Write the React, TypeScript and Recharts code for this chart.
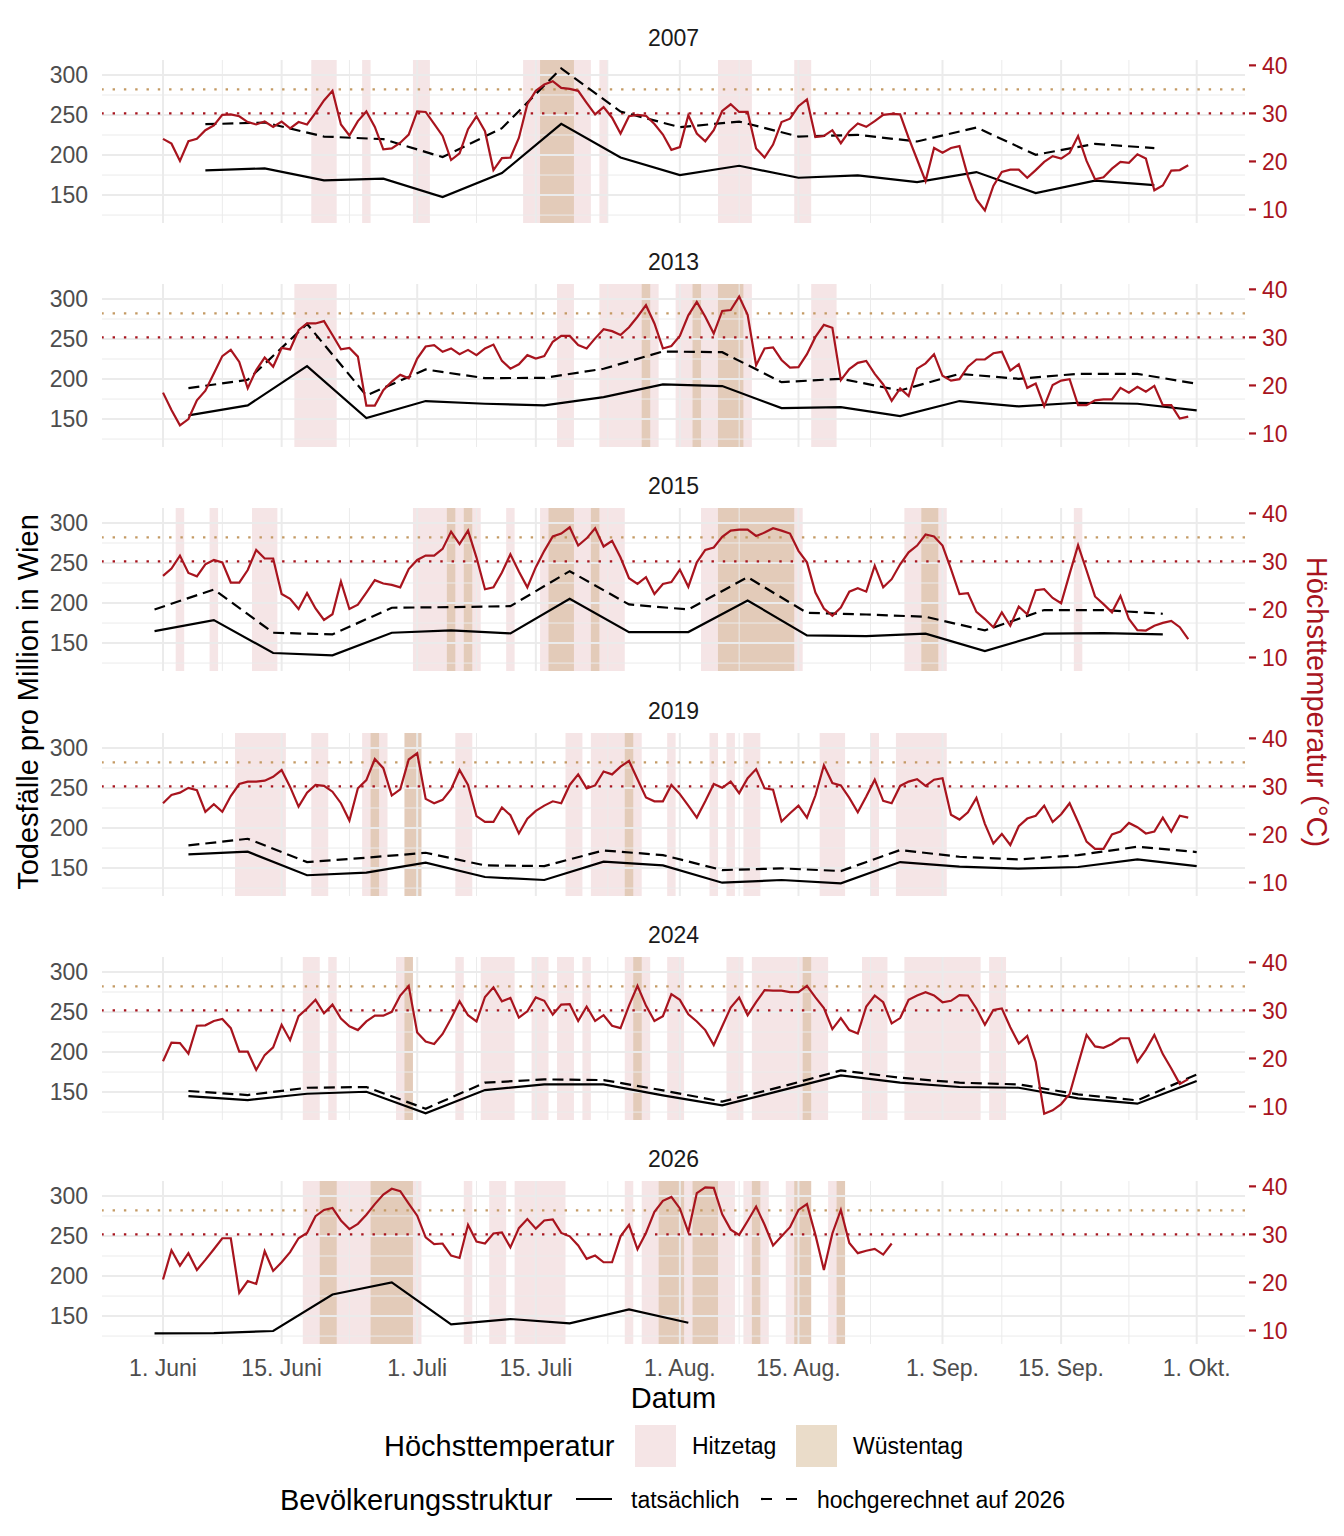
import React from "react";
import {
  ComposedChart,
  Line,
  XAxis,
  YAxis,
  ReferenceLine,
  ReferenceArea,
} from "recharts";

// daily maximum temperature in °C, day 0 = 1 June
const temp2007 = [
  24.7, 23.7, 20.1, 24.2, 24.7, 26.5, 27.5, 29.7, 29.8, 29.4,
  28.2, 27.7, 28.3, 27.2, 28.3, 26.9, 28.2, 27.7, 30.1, 32.7,
  34.7, 27.7, 25.4, 28.4, 30.4, 27.2, 22.5, 22.7, 23.9, 25.6,
  30.4, 30.3, 27.8, 25.3, 20.3, 21.7, 26.7, 29.4, 26.3, 18.2,
  20.7, 20.8, 24.9, 31.9, 34.7, 36.0, 36.7, 35.3, 35.1, 34.7,
  32.2, 29.8, 31.3, 29.1, 25.8, 29.4, 29.7, 29.5, 27.8, 25.6,
  22.4, 23.0, 29.6, 25.8, 24.2, 26.5, 30.5, 31.9, 30.3, 30.3,
  22.7, 20.8, 23.5, 28.2, 28.9, 31.5, 32.9, 25.1, 25.3, 26.5,
  23.8, 26.3, 27.9, 27.2, 28.4, 29.7, 29.9, 29.8, 24.9, 20.4,
  15.9, 22.8, 21.8, 22.8, 23.2, 16.9, 12.1, 9.8, 14.9, 17.8,
  18.3, 18.3, 16.6, 18.2, 19.9, 21.1, 20.6, 21.8, 25.3, 20.1,
  16.3, 16.7, 18.5, 19.9, 19.7, 21.5, 20.6, 14.0, 15.0, 18.1,
  18.2, 19.2,
];
const temp2013 = [
  18.5, 14.9, 11.7, 13.0, 16.9, 18.9, 22.5, 26.1, 27.4, 24.9,
  19.4, 23.2, 25.8, 23.9, 27.8, 27.5, 31.5, 32.9, 32.9, 33.4,
  30.5, 27.5, 27.8, 26.0, 15.8, 15.8, 19.0, 20.8, 22.2, 21.5,
  25.6, 28.1, 28.4, 27.0, 27.7, 26.5, 27.4, 26.3, 27.7, 28.5,
  25.1, 23.5, 24.4, 26.3, 25.6, 26.1, 29.1, 30.3, 30.3, 28.4,
  27.7, 29.8, 31.7, 31.3, 30.5, 32.1, 34.3, 36.7, 32.9, 27.7,
  28.2, 30.3, 34.6, 37.4, 34.3, 30.8, 35.5, 35.7, 38.5, 34.7,
  24.2, 27.7, 27.9, 25.3, 23.7, 23.8, 26.5, 30.1, 32.6, 32.0,
  21.1, 23.4, 24.7, 25.1, 22.4, 20.2, 16.8, 19.4, 17.8, 23.5,
  24.6, 26.5, 22.0, 21.0, 21.3, 23.9, 25.4, 25.4, 26.7, 27.0,
  23.1, 24.4, 19.5, 20.4, 15.7, 20.1, 21.0, 21.3, 15.9, 15.9,
  16.9, 17.1, 17.1, 19.5, 18.5, 19.7, 18.7, 19.9, 15.9, 15.9,
  13.1, 13.5,
];
const temp2015 = [
  27.0, 28.5, 31.2, 27.6, 26.9, 29.4, 30.3, 29.8, 25.6, 25.6,
  28.2, 32.4, 30.6, 30.6, 23.2, 22.2, 20.1, 23.4, 20.2, 17.8,
  19.0, 25.8, 20.1, 21.0, 23.5, 26.1, 25.4, 25.1, 24.6, 28.4,
  30.3, 31.2, 31.2, 32.6, 36.2, 33.6, 36.4, 30.8, 24.2, 24.6,
  27.7, 31.5, 27.9, 24.6, 28.8, 32.2, 35.2, 35.8, 37.1, 33.3,
  34.8, 36.9, 33.1, 34.3, 30.8, 26.5, 25.3, 26.7, 23.2, 25.3,
  25.7, 28.3, 24.7, 29.8, 32.4, 32.9, 35.1, 36.4, 36.6, 36.6,
  35.3, 36.0, 36.9, 36.4, 35.8, 32.2, 29.8, 23.5, 20.2, 18.7,
  20.4, 23.7, 24.4, 23.7, 29.1, 24.6, 26.3, 29.4, 31.9, 33.3,
  35.6, 35.2, 33.3, 28.4, 23.2, 23.4, 19.5, 18.0, 16.3, 19.4,
  16.6, 20.6, 19.0, 24.0, 24.2, 22.4, 21.3, 27.4, 33.4, 28.1,
  22.7, 21.1, 19.4, 22.8, 18.0, 15.7, 15.6, 16.6, 17.2, 17.6,
  16.3, 13.8,
];
const temp2019 = [
  26.5, 28.2, 28.7, 29.7, 29.2, 24.7, 26.3, 24.7, 28.0, 30.5,
  31.0, 31.0, 31.2, 32.0, 33.4, 29.9, 25.8, 28.7, 30.3, 30.1,
  28.9, 26.5, 22.9, 29.6, 31.3, 35.7, 33.8, 28.1, 29.4, 35.6,
  36.9, 27.4, 26.5, 27.2, 29.4, 33.4, 30.3, 23.8, 22.6, 22.6,
  25.6, 24.0, 20.2, 23.3, 24.9, 26.0, 26.9, 26.5, 30.3, 32.5,
  29.6, 30.2, 33.1, 32.5, 34.1, 35.3, 31.5, 27.7, 26.9, 26.9,
  30.3, 28.4, 26.0, 23.5, 26.9, 30.5, 29.7, 31.0, 28.6, 31.7,
  33.6, 29.6, 29.3, 22.7, 24.4, 26.0, 23.5, 28.1, 34.4, 30.7,
  30.2, 27.6, 24.6, 27.9, 31.4, 27.0, 26.5, 30.1, 31.0, 31.5,
  30.1, 31.4, 31.7, 24.1, 23.1, 24.6, 27.6, 22.2, 18.1, 20.1,
  17.8, 21.7, 23.3, 23.9, 26.0, 22.6, 24.2, 26.5, 22.6, 18.5,
  17.0, 17.0, 20.0, 20.6, 22.4, 21.5, 20.2, 20.6, 23.5, 20.6,
  23.9, 23.5,
];
const temp2024 = [
  19.4, 23.3, 23.2, 21.0, 26.8, 26.9, 27.8, 28.2, 26.3, 21.4,
  21.4, 17.6, 20.7, 22.3, 27.0, 23.8, 28.8, 30.4, 32.2, 29.4,
  31.2, 28.3, 26.7, 25.9, 27.7, 28.9, 28.9, 29.7, 33.1, 35.1,
  25.4, 23.5, 23.0, 25.1, 28.3, 31.9, 29.0, 27.7, 32.8, 34.8,
  31.9, 32.6, 28.5, 29.8, 32.7, 32.0, 29.1, 31.2, 31.3, 27.8,
  30.8, 27.8, 29.0, 26.8, 26.3, 31.0, 35.1, 31.0, 27.8, 28.8,
  33.4, 32.2, 29.2, 27.7, 25.9, 22.8, 26.7, 30.6, 32.7, 29.0,
  31.7, 34.2, 34.1, 34.1, 33.8, 33.8, 35.1, 32.7, 30.5, 26.1,
  28.4, 25.9, 25.2, 30.8, 33.1, 31.7, 27.3, 28.4, 32.2, 33.1,
  33.8, 33.1, 31.7, 32.0, 33.2, 33.1, 30.4, 27.0, 30.1, 30.4,
  26.5, 23.1, 24.7, 19.3, 8.5, 9.2, 10.5, 12.6, 18.8, 24.9,
  22.5, 22.2, 23.0, 24.2, 24.2, 19.3, 21.8, 24.9, 20.9, 17.9,
  14.7, 15.7,
];
const temp2026 = [
  20.6, 26.7, 23.5, 26.1, 22.6, 24.7, 26.9, 29.2, 29.2, 17.8,
  20.3, 19.7, 26.5, 22.4, 24.2, 26.3, 29.2, 30.3, 33.8, 35.1,
  35.5, 32.9, 31.1, 32.2, 34.1, 36.3, 38.3, 39.5, 39.0, 36.4,
  33.9, 29.4, 28.0, 28.1, 25.6, 25.1, 32.0, 28.5, 28.1, 30.2,
  30.4, 27.3, 31.3, 33.2, 31.2, 32.9, 33.1, 30.3, 29.6, 27.7,
  24.9, 25.6, 24.2, 24.2, 29.6, 32.0, 26.9, 30.3, 34.7, 37.0,
  37.8, 35.4, 30.5, 38.6, 39.8, 39.7, 34.2, 31.0, 29.9, 32.8,
  35.8, 32.0, 27.7, 29.6, 31.5, 35.1, 36.3, 29.9, 22.6, 30.2,
  35.1, 28.2, 26.1, 26.6, 27.0, 25.8, 28.1,
];

// weekly deaths per million (day of the week's midpoint, 0 = 1 June)
const weeks2007 = [5, 12, 19, 26, 33, 40, 47, 54, 61, 68, 75, 82, 89, 96, 103, 110, 117];
const actual2007 = [180.8, 183.3, 168.3, 170.4, 147.5, 177.4, 238.9, 197.0, 175.0, 186.6, 171.6, 174.5, 166.2, 178.7, 152.5, 167.9, 162.5];
const projected2007 = [238.5, 240.6, 223.1, 219.8, 197.4, 233.5, 308.3, 254.3, 234.8, 241.8, 223.1, 225.2, 216.9, 234.4, 200.3, 214.0, 208.6];

const weeks2013 = [3, 10, 17, 24, 31, 38, 45, 52, 59, 66, 73, 80, 87, 94, 101, 108, 115, 122];
const actual2013 = [154.6, 167.1, 216.1, 151.3, 172.5, 169.1, 167.1, 177.4, 193.2, 191.2, 163.7, 165.0, 153.8, 172.5, 165.8, 170.4, 169.1, 160.8];
const projected2013 = [188.7, 199.0, 268.8, 179.5, 211.9, 201.1, 201.5, 212.8, 234.4, 233.5, 196.1, 200.3, 185.7, 206.5, 200.3, 206.5, 206.5, 194.1];

const weeks2015 = [-1, 6, 13, 20, 27, 34, 41, 48, 55, 62, 69, 76, 83, 90, 97, 104, 111, 118];
const actual2015 = [165.0, 178.7, 137.6, 134.6, 162.9, 165.8, 162.1, 205.3, 163.7, 163.7, 203.2, 159.6, 158.7, 161.7, 140.0, 161.7, 162.5, 160.8];
const projected2015 = [192.0, 216.9, 162.9, 160.8, 194.1, 194.9, 196.1, 239.8, 198.2, 192.0, 232.3, 187.8, 185.7, 182.8, 165.8, 191.2, 191.2, 186.6];

const weeks2019 = [3, 10, 17, 24, 31, 38, 45, 52, 59, 66, 73, 80, 87, 94, 101, 108, 115, 122];
const actual2019 = [167.1, 170.4, 141.0, 144.2, 156.7, 138.8, 135.1, 157.9, 153.3, 131.7, 135.1, 130.9, 157.5, 151.7, 149.2, 151.3, 160.8, 152.5];
const projected2019 = [178.3, 186.6, 157.5, 162.9, 169.1, 153.3, 152.5, 172.0, 166.2, 147.5, 149.6, 146.3, 172.5, 164.1, 160.8, 166.2, 176.6, 170.0];

const weeks2024 = [3, 10, 17, 24, 31, 38, 45, 52, 59, 66, 73, 80, 87, 94, 101, 108, 115, 122];
const actual2024 = [145.0, 140.0, 147.9, 150.4, 123.4, 152.5, 159.6, 159.6, 145.9, 133.4, 152.1, 170.8, 161.7, 156.3, 155.4, 142.1, 135.5, 163.7];
const projected2024 = [151.3, 146.3, 155.4, 156.3, 129.2, 161.7, 165.8, 165.0, 152.1, 138.0, 156.7, 177.0, 167.9, 161.7, 159.6, 147.1, 139.6, 172.0];

const weeks2026 = [-1, 6, 13, 20, 27, 34, 41, 48, 55, 62];
const actual2026 = [128.4, 128.8, 131.3, 177.0, 192.0, 139.6, 146.3, 140.9, 158.3, 141.7];

const dateTicks = [0, 14, 30, 44, 61, 75, 92, 106, 122];
const dateLabels = ["1. Juni", "15. Juni", "1. Juli", "15. Juli", "1. Aug.", "15. Aug.", "1. Sep.", "15. Sep.", "1. Okt."];
const minorDays = [7, 22, 37, 52.5, 68, 83.5, 99, 114];
const deathTicks = [150, 200, 250, 300];
const deathMinor = [125, 175, 225, 275];
const tempTicks = [10, 20, 30, 40];

const panels = [
  { year: "2007", temp: temp2007, weeks: weeks2007, actual: actual2007, projected: projected2007 },
  { year: "2013", temp: temp2013, weeks: weeks2013, actual: actual2013, projected: projected2013 },
  { year: "2015", temp: temp2015, weeks: weeks2015, actual: actual2015, projected: projected2015 },
  { year: "2019", temp: temp2019, weeks: weeks2019, actual: actual2019, projected: projected2019 },
  { year: "2024", temp: temp2024, weeks: weeks2024, actual: actual2024, projected: projected2024 },
  { year: "2026", temp: temp2026, weeks: weeks2026, actual: actual2026, projected: null },
];

const FONT = "'Liberation Sans', Arial, Helvetica, sans-serif";
const RED = "#A8141E";
const TAN = "#C49A64";
const GRID = "#EBEBEB";
const AXIS_TEXT = "#4D4D4D";

const X_DOMAIN = [-7.2, 127.7];
const DEATH_DOMAIN = [115.1, 318.7];
// secondary axis: deaths = 6 * temp + 72
const TEMP_DOMAIN = DEATH_DOMAIN.map((d) => (d - 72) / 6);

const PLOT_H = 163;
const PANEL_STEP = 224.2;
const FIRST_TOP = 60;
const PAD_TOP = 16; // room above the plot so the top tick labels are not clipped
const X_AXIS_H = 50;

// consecutive days at or above a threshold -> [x1, x2] strips
const runs = (temps: number[], thr: number) => {
  const out: [number, number][] = [];
  let start: number | null = null;
  temps.forEach((t, i) => {
    if (t >= thr) {
      if (start === null) start = i;
    } else if (start !== null) {
      out.push([start - 0.5, i - 0.5]);
      start = null;
    }
  });
  if (start !== null) out.push([start - 0.5, temps.length - 0.5]);
  return out;
};

const TempTick = (props: any) => {
  const { x, y, payload } = props;
  return (
    <g>
      <line x1={x + 4} x2={x + 11} y1={y} y2={y} stroke={RED} strokeWidth={2.2} />
      <text x={x + 17} y={y} dy="0.36em" fill={RED} fontSize={23} fontFamily={FONT}>
        {payload.value}
      </text>
    </g>
  );
};

function Panel({ p, last }: { p: any; last: boolean }) {
  const tempRows = p.temp.map((t: number, i: number) => ({ day: i, t }));
  const deathRows = p.weeks.map((d: number, i: number) => ({
    day: d,
    actual: p.actual[i],
    projected: p.projected ? p.projected[i] : null,
  }));
  const hot = runs(p.temp, 30);
  const desert = runs(p.temp, 35);

  return (
    <ComposedChart
      width={1344}
      height={PAD_TOP + PLOT_H + (last ? X_AXIS_H : 0)}
      margin={{ top: PAD_TOP, right: 0, bottom: 0, left: 0 }}
    >
      <XAxis
        type="number"
        dataKey="day"
        domain={X_DOMAIN}
        allowDataOverflow
        hide={!last}
        height={X_AXIS_H}
        ticks={dateTicks}
        interval={0}
        tickFormatter={(v) => dateLabels[dateTicks.indexOf(v)]}
        axisLine={false}
        tickLine={false}
        tickSize={0}
        tickMargin={16}
        tick={{ fill: AXIS_TEXT, fontSize: 23, fontFamily: FONT }}
      />
      <YAxis
        yAxisId="deaths"
        orientation="left"
        width={102}
        domain={DEATH_DOMAIN}
        allowDataOverflow
        ticks={deathTicks}
        interval={0}
        axisLine={false}
        tickLine={false}
        tickSize={0}
        tickMargin={14}
        tick={{ fill: AXIS_TEXT, fontSize: 23, fontFamily: FONT }}
      />
      <YAxis
        yAxisId="temp"
        orientation="right"
        width={99}
        domain={TEMP_DOMAIN}
        allowDataOverflow
        ticks={tempTicks}
        interval={0}
        axisLine={false}
        tickLine={false}
        tickSize={0}
        tickMargin={0}
        tick={(props: any) => <TempTick {...props} />}
      />

      {deathMinor.map((v) => (
        <ReferenceLine key={`hm${v}`} yAxisId="deaths" y={v} stroke={GRID} strokeWidth={1} />
      ))}
      {minorDays.map((d) => (
        <ReferenceLine key={`vm${d}`} yAxisId="deaths" x={d} stroke={GRID} strokeWidth={1} />
      ))}
      {deathTicks.map((v) => (
        <ReferenceLine key={`h${v}`} yAxisId="deaths" y={v} stroke={GRID} strokeWidth={2} />
      ))}
      {dateTicks.map((d) => (
        <ReferenceLine key={`v${d}`} yAxisId="deaths" x={d} stroke={GRID} strokeWidth={2} />
      ))}

      {hot.map(([a, b]) => (
        <ReferenceArea
          key={`hot${a}`}
          yAxisId="deaths"
          x1={a}
          x2={b}
          fill={RED}
          fillOpacity={0.11}
          stroke="none"
        />
      ))}
      {desert.map(([a, b]) => (
        <ReferenceArea
          key={`des${a}`}
          yAxisId="deaths"
          x1={a}
          x2={b}
          fill={TAN}
          fillOpacity={0.35}
          stroke="none"
        />
      ))}

      <ReferenceLine yAxisId="temp" y={35} stroke={TAN} strokeWidth={2.4} strokeDasharray="2.4 8.9" />
      <ReferenceLine yAxisId="temp" y={30} stroke={RED} strokeWidth={2.4} strokeDasharray="2.4 8.9" />

      {p.projected && (
        <Line
          data={deathRows}
          yAxisId="deaths"
          dataKey="projected"
          type="linear"
          stroke="#000000"
          strokeWidth={2.2}
          strokeDasharray="11 6"
          dot={false}
          activeDot={false}
          isAnimationActive={false}
        />
      )}
      <Line
        data={deathRows}
        yAxisId="deaths"
        dataKey="actual"
        type="linear"
        stroke="#000000"
        strokeWidth={2.2}
        dot={false}
        activeDot={false}
        isAnimationActive={false}
      />
      <Line
        data={tempRows}
        yAxisId="temp"
        dataKey="t"
        type="linear"
        stroke={RED}
        strokeWidth={2.2}
        dot={false}
        activeDot={false}
        isAnimationActive={false}
      />
    </ComposedChart>
  );
}

export default function App() {
  const plotCenterX = (102 + 1245) / 2;
  const midY = (FIRST_TOP + FIRST_TOP + PANEL_STEP * 5 + PLOT_H) / 2;
  return (
    <div
      style={{
        position: "absolute",
        left: 0,
        top: 0,
        width: 1344,
        height: 1536,
        background: "#ffffff",
        fontFamily: FONT,
      }}
    >
      {panels.map((p, k) => (
        <div
          key={p.year}
          style={{ position: "absolute", left: 0, top: FIRST_TOP + PANEL_STEP * k - PAD_TOP }}
        >
          <Panel p={p} last={k === panels.length - 1} />
        </div>
      ))}

      <svg
        width={1344}
        height={1536}
        style={{ position: "absolute", left: 0, top: 0, pointerEvents: "none" }}
        fontFamily={FONT}
      >
        {panels.map((p, k) => (
          <text
            key={`strip${p.year}`}
            x={plotCenterX}
            y={FIRST_TOP + PANEL_STEP * k - 22}
            textAnchor="middle"
            dominantBaseline="central"
            fontSize={23}
            fill="#1A1A1A"
          >
            {p.year}
          </text>
        ))}

        <text
          transform={`translate(28, ${midY}) rotate(-90)`}
          textAnchor="middle"
          dominantBaseline="central"
          fontSize={29}
          fill="#000000"
        >
          Todesfälle pro Million in Wien
        </text>
        <text
          transform={`translate(1317, ${midY}) rotate(90)`}
          textAnchor="middle"
          dominantBaseline="central"
          fontSize={29}
          fill={RED}
        >
          Höchsttemperatur (°C)
        </text>
        <text
          x={plotCenterX}
          y={1398}
          textAnchor="middle"
          dominantBaseline="central"
          fontSize={29}
          fill="#000000"
        >
          Datum
        </text>

        {/* legend: heat days */}
        <text x={384} y={1446} dominantBaseline="central" fontSize={29} fill="#000000">
          Höchsttemperatur
        </text>
        <rect x={635} y={1425} width={41} height={42} fill={RED} fillOpacity={0.11} />
        <text x={692} y={1446} dominantBaseline="central" fontSize={23} fill="#000000">
          Hitzetag
        </text>
        <rect x={796} y={1425} width={41} height={42} fill={TAN} fillOpacity={0.35} />
        <text x={853} y={1446} dominantBaseline="central" fontSize={23} fill="#000000">
          Wüstentag
        </text>

        {/* legend: population structure */}
        <text x={280} y={1500} dominantBaseline="central" fontSize={29} fill="#000000">
          Bevölkerungsstruktur
        </text>
        <line x1={576} x2={612} y1={1499} y2={1499} stroke="#000000" strokeWidth={2.2} />
        <text x={631} y={1500} dominantBaseline="central" fontSize={23} fill="#000000">
          tatsächlich
        </text>
        <line
          x1={761}
          x2={797}
          y1={1499}
          y2={1499}
          stroke="#000000"
          strokeWidth={2.2}
          strokeDasharray="11 14"
        />
        <text x={817} y={1500} dominantBaseline="central" fontSize={23} fill="#000000">
          hochgerechnet auf 2026
        </text>
      </svg>
    </div>
  );
}
